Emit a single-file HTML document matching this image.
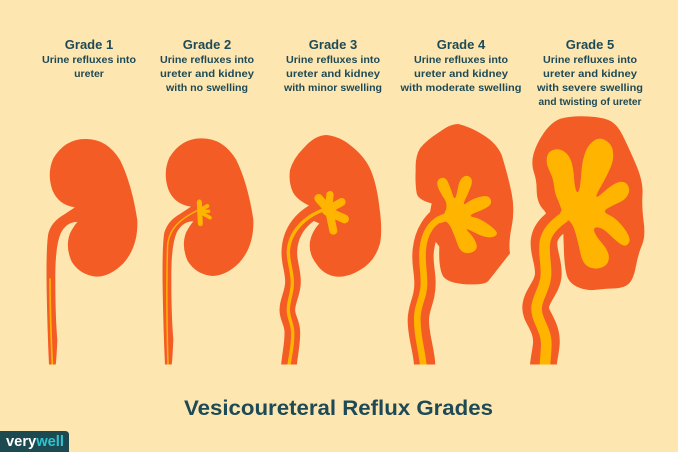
<!DOCTYPE html>
<html><head><meta charset="utf-8"><style>
html,body{margin:0;padding:0;background:#fee6b0}
svg{display:block}
text{font-family:"Liberation Sans",sans-serif;text-anchor:middle;fill:#1d4a56}
.h{font-size:13px;font-weight:700}
.t{font-size:10.5px;font-weight:700}
</style></head><body>
<svg width="678" height="452" viewBox="0 0 678 452" xmlns="http://www.w3.org/2000/svg">
<rect width="678" height="452" fill="#fee6b0"/>
<g>
<text class="h" x="89" y="49">Grade 1</text>
<text class="t" x="89" y="63" textLength="94" lengthAdjust="spacingAndGlyphs">Urine refluxes into</text>
<text class="t" x="89" y="77">ureter</text>
<text class="h" x="207" y="49">Grade 2</text>
<text class="t" x="207" y="63" textLength="94" lengthAdjust="spacingAndGlyphs">Urine refluxes into</text>
<text class="t" x="207" y="77" textLength="94" lengthAdjust="spacingAndGlyphs">ureter and kidney</text>
<text class="t" x="207" y="91" textLength="82" lengthAdjust="spacingAndGlyphs">with no swelling</text>
<text class="h" x="333" y="49">Grade 3</text>
<text class="t" x="333" y="63" textLength="94" lengthAdjust="spacingAndGlyphs">Urine refluxes into</text>
<text class="t" x="333" y="77" textLength="94" lengthAdjust="spacingAndGlyphs">ureter and kidney</text>
<text class="t" x="333" y="91" textLength="98" lengthAdjust="spacingAndGlyphs">with minor swelling</text>
<text class="h" x="461" y="49">Grade 4</text>
<text class="t" x="461" y="63" textLength="94" lengthAdjust="spacingAndGlyphs">Urine refluxes into</text>
<text class="t" x="461" y="77" textLength="94" lengthAdjust="spacingAndGlyphs">ureter and kidney</text>
<text class="t" x="461" y="91" textLength="121" lengthAdjust="spacingAndGlyphs">with moderate swelling</text>
<text class="h" x="590" y="49">Grade 5</text>
<text class="t" x="590" y="63" textLength="94" lengthAdjust="spacingAndGlyphs">Urine refluxes into</text>
<text class="t" x="590" y="77" textLength="94" lengthAdjust="spacingAndGlyphs">ureter and kidney</text>
<text class="t" x="590" y="91" textLength="106" lengthAdjust="spacingAndGlyphs">with severe swelling</text>
<text class="t" x="590" y="105" textLength="103" lengthAdjust="spacingAndGlyphs">and twisting of ureter</text>
</g>

<!-- Kidney 1 -->
<g transform="translate(20 130) scale(.33333)">
<path fill="#f45c26" d="M195 27Q260 25 300 90Q335 160 352 270Q355 350 310 400Q270 440 228 440Q180 435 155 395Q135 350 150 310Q160 290 172 276L165 232Q115 225 97 180Q80 130 100 85Q135 27 195 27Z"/>
<path fill="#f45c26" d="M87 705Q82 600 80 480Q78 350 85 310Q95 275 130 255L168 230L172 276Q140 275 122 310Q105 350 106 450Q106 560 112 630Q110 680 107 705Z"/>
<path fill="none" stroke="#ffb400" stroke-width="5" d="M90 445C90 550 94 640 97 704"/>
</g>

<!-- Kidney 2 -->
<g transform="translate(20 130) scale(.33333)">
<g transform="translate(348 -2)">
<path fill="#f45c26" d="M195 27Q260 25 300 90Q335 160 352 270Q355 350 310 400Q270 440 228 440Q180 435 155 395Q135 350 150 310Q160 290 172 276L165 232Q115 225 97 180Q80 130 100 85Q135 27 195 27Z"/>
<path fill="#f45c26" d="M87 708Q82 600 80 480Q78 350 85 310Q95 275 130 255L168 230L172 276Q140 275 122 310Q105 350 106 450Q106 560 112 630Q110 680 107 708Z"/>
</g>
<path fill="none" stroke="#ffb400" stroke-width="4.5" d="M444 704C441 600 439 450 443 345C448 290 490 262 535 240"/>
<g stroke="#ffb400" stroke-linecap="round" fill="none">
<path stroke-width="15" d="M538 216L541 281"/>
<path stroke-width="12" d="M540 240L562 228"/>
<path stroke-width="10" d="M540 243L566 244"/>
<path stroke-width="11" d="M540 246L570 263"/>
</g>
</g>

<!-- Kidney 3 -->
<g transform="translate(260 120) scale(.33333)">
<path fill="#f45c26" d="M200 45Q240 50 270 75Q310 105 330 145Q350 190 358 260Q368 330 360 370Q345 425 300 450Q265 472 230 470Q190 465 168 430Q145 400 150 365Q155 335 178 310L130 290L150 258Q110 240 98 215Q85 185 90 150Q100 115 130 85Q165 45 200 45Z"/>
<path fill="none" stroke="#f45c26" stroke-width="47" d="M87 770L87 735C90 700 98 670 97 635C96 605 82 595 82 570C82 540 99 520 99 485C99 450 87 430 88 395C90 330 130 285 190 262"/>
<path fill="none" stroke="#ffb400" stroke-width="10" d="M87 770L87 735C92 700 100 670 98 635C96 605 85 595 85 570C85 540 97 520 97 490C97 450 85 430 85 395C87 340 130 290 195 268"/>
<g stroke="#ffb400" stroke-linecap="round" fill="none">
<path stroke-width="26" d="M205 268L176 235"/>
<path stroke-width="22" d="M205 268L210 224"/>
<path stroke-width="24" d="M205 268L245 246"/>
<path stroke-width="26" d="M205 275L254 297"/>
<path stroke-width="24" d="M208 275L220 332"/>
</g>
<circle cx="205" cy="268" r="20" fill="#ffb400"/>
</g>

<!-- Kidney 4 -->
<g transform="translate(260 120) scale(.33333)">
<path fill="#f45c26" d="M595 12Q630 20 670 45Q710 70 725 105Q745 170 755 220Q765 270 755 320Q745 370 750 400Q715 445 685 483Q675 495 620 493Q565 490 550 470Q535 445 538 380L500 330L515 250Q475 240 470 220Q465 190 467 150Q465 110 480 85Q500 60 540 35Q570 12 595 12Z"/>
<path fill="none" stroke="#f45c26" stroke-width="64" d="M494 770L494 735C492 690 475 650 475 600C475 560 495 540 495 490C495 450 485 430 490 390C495 340 520 300 560 280"/>
<path fill="none" stroke="#ffb400" stroke-width="20" d="M490 770L490 735C485 690 470 640 472 590C474 550 492 530 492 490C492 450 485 430 488 390C492 340 515 300 560 290"/>
<path fill="#ffb400" d="M558.5 267.5Q562 250 553.5 237.5Q545 225 537.5 210Q530 195 532.5 185Q535 175 546.5 173.5Q558 172 565 188.5Q572 205 577.5 222.5Q583 240 586.5 232.5Q590 225 594 202.5Q598 180 609 171.5Q620 163 630 171.5Q640 180 632.5 200Q625 220 615 240Q605 260 622.5 247.5Q640 235 662.5 230Q685 225 691 236.5Q697 248 688.5 256.5Q680 265 650 276.5Q620 288 640 291.5Q660 295 687.5 315Q715 335 710 343.5Q705 352 687.5 352Q670 352 640 336Q610 320 625 335Q640 350 647.5 367.5Q655 385 642.5 393.5Q630 402 615 398.5Q600 395 592.5 372.5Q585 350 575 327.5Q565 305 555 305L540 310Z"/>
</g>

<!-- Kidney 5 -->
<g transform="translate(500 110) scale(.33333)">
<path fill="#f45c26" d="M255 19Q300 20 325 30Q350 40 367.5 75Q385 110 407.5 162.5Q430 215 427.5 252.5Q425 290 431 335Q437 380 426 405Q415 430 407.5 470Q400 510 385 522.5Q370 535 345 535Q320 535 292.5 539Q265 543 240 534Q215 525 205 507.5Q195 490 192 430L190 372L150 330L133 302Q110 280 110 240Q110 210 101 185Q93 160 101 130Q110 100 132 68Q155 35 182 26Q210 18 255 19Z"/>
<path fill="none" stroke="#f45c26" stroke-width="80" d="M130 800L130 765C135 720 145 700 135 665C125 630 105 615 107 590C110 555 145 530 145 490C145 450 130 430 132 395C135 360 165 335 200 320"/>
<path fill="none" stroke="#ffb400" stroke-width="32" d="M135 800L135 765C137 720 145 695 130 660C118 630 108 615 110 590C113 560 138 530 138 490C138 450 130 430 135 395C140 365 165 340 195 320"/>
<path fill="#ffb400" d="M185 300L175 272.5Q165 255 162.5 230Q160 205 148.5 182.5Q137 160 141 141Q145 122 165 118.5Q185 115 201.5 132.5Q218 150 221.5 197.5Q225 245 232.5 246.5Q240 248 244 189Q248 130 269 104Q290 78 312.5 89Q335 100 338.5 122.5Q342 145 333.5 167.5Q325 190 300 234Q275 278 307.5 249Q340 220 357.5 216Q375 212 383.5 226Q392 240 383.5 255Q375 270 357.5 277.5Q340 285 322.5 295Q305 305 327.5 315Q350 325 372.5 355Q395 385 386.5 398.5Q378 412 364 403.5Q350 395 330 375Q310 355 295 352.5Q280 350 282.5 362.5Q285 375 306.5 400Q328 425 326.5 445Q325 465 305 472.5Q285 480 266.5 471Q248 462 241.5 431Q235 400 227.5 372.5Q220 345 210 335Q200 325 185 335L165 340Z"/>
</g>
<rect x="30" y="364.5" width="560" height="20" fill="#fee6b0"/>

<text x="338.5" y="415" textLength="309" lengthAdjust="spacingAndGlyphs" style="font-size:21px;font-weight:700">Vesicoureteral Reflux Grades</text>

<!-- Logo -->
<path fill="#1d4a50" d="M0 431L65 431Q69 431 69 435L69 452L0 452Z"/>
<text x="6" y="446" style="text-anchor:start;font-size:15px;font-weight:700;fill:#fff" textLength="58" lengthAdjust="spacingAndGlyphs">very<tspan fill="#2fc4d2">well</tspan></text>
</svg>
</body></html>
